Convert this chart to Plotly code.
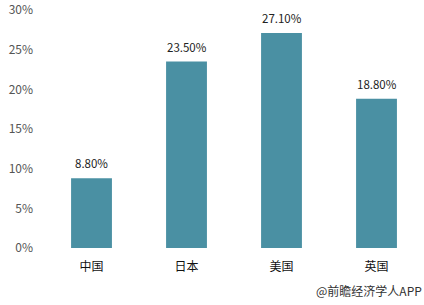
import plotly.graph_objects as go

categories = ["中国", "日本", "美国", "英国"]
values = [8.8, 23.5, 27.1, 18.8]
labels = ["8.80%", "23.50%", "27.10%", "18.80%"]
tick_vals = [0, 5, 10, 15, 20, 25, 30]
tick_text = ["0%", "5%", "10%", "15%", "20%", "25%", "30%"]

font_family = "Microsoft YaHei, Noto Sans CJK SC, sans-serif"

fig = go.Figure()
fig.add_trace(go.Bar(
    x=categories, y=values,
    marker=dict(color="#4A90A3", line=dict(width=0)),
    width=0.43,
    hoverinfo="skip",
))

for c, v, t in zip(categories, values, labels):
    fig.add_annotation(x=c, y=v, text=t, showarrow=False, yanchor="bottom",
                       yshift=5, font=dict(size=11.5, color="#222222", family=font_family))

fig.add_annotation(xref="paper", yref="paper", x=1.0, y=-0.18, xanchor="right", yanchor="middle",
                   text="@前瞻经济学人APP", showarrow=False,
                   font=dict(size=12, color="#333333", family=font_family))

fig.update_layout(
    width=424, height=305,
    margin=dict(l=44, r=0, t=10, b=57),
    paper_bgcolor="white", plot_bgcolor="white",
    showlegend=False,
    bargap=0.57,
)
fig.update_xaxes(showline=False, showgrid=False, zeroline=False, ticks="",
                 ticklabelstandoff=10,
                 tickfont=dict(size=12, color="#111111", family=font_family))
fig.update_yaxes(range=[0, 30], tickvals=tick_vals, ticktext=tick_text,
                 showline=False, showgrid=False, zeroline=False, ticks="",
                 ticklabelstandoff=10,
                 tickfont=dict(size=12, color="#555555", family=font_family))

fig.write_html("out.html")
